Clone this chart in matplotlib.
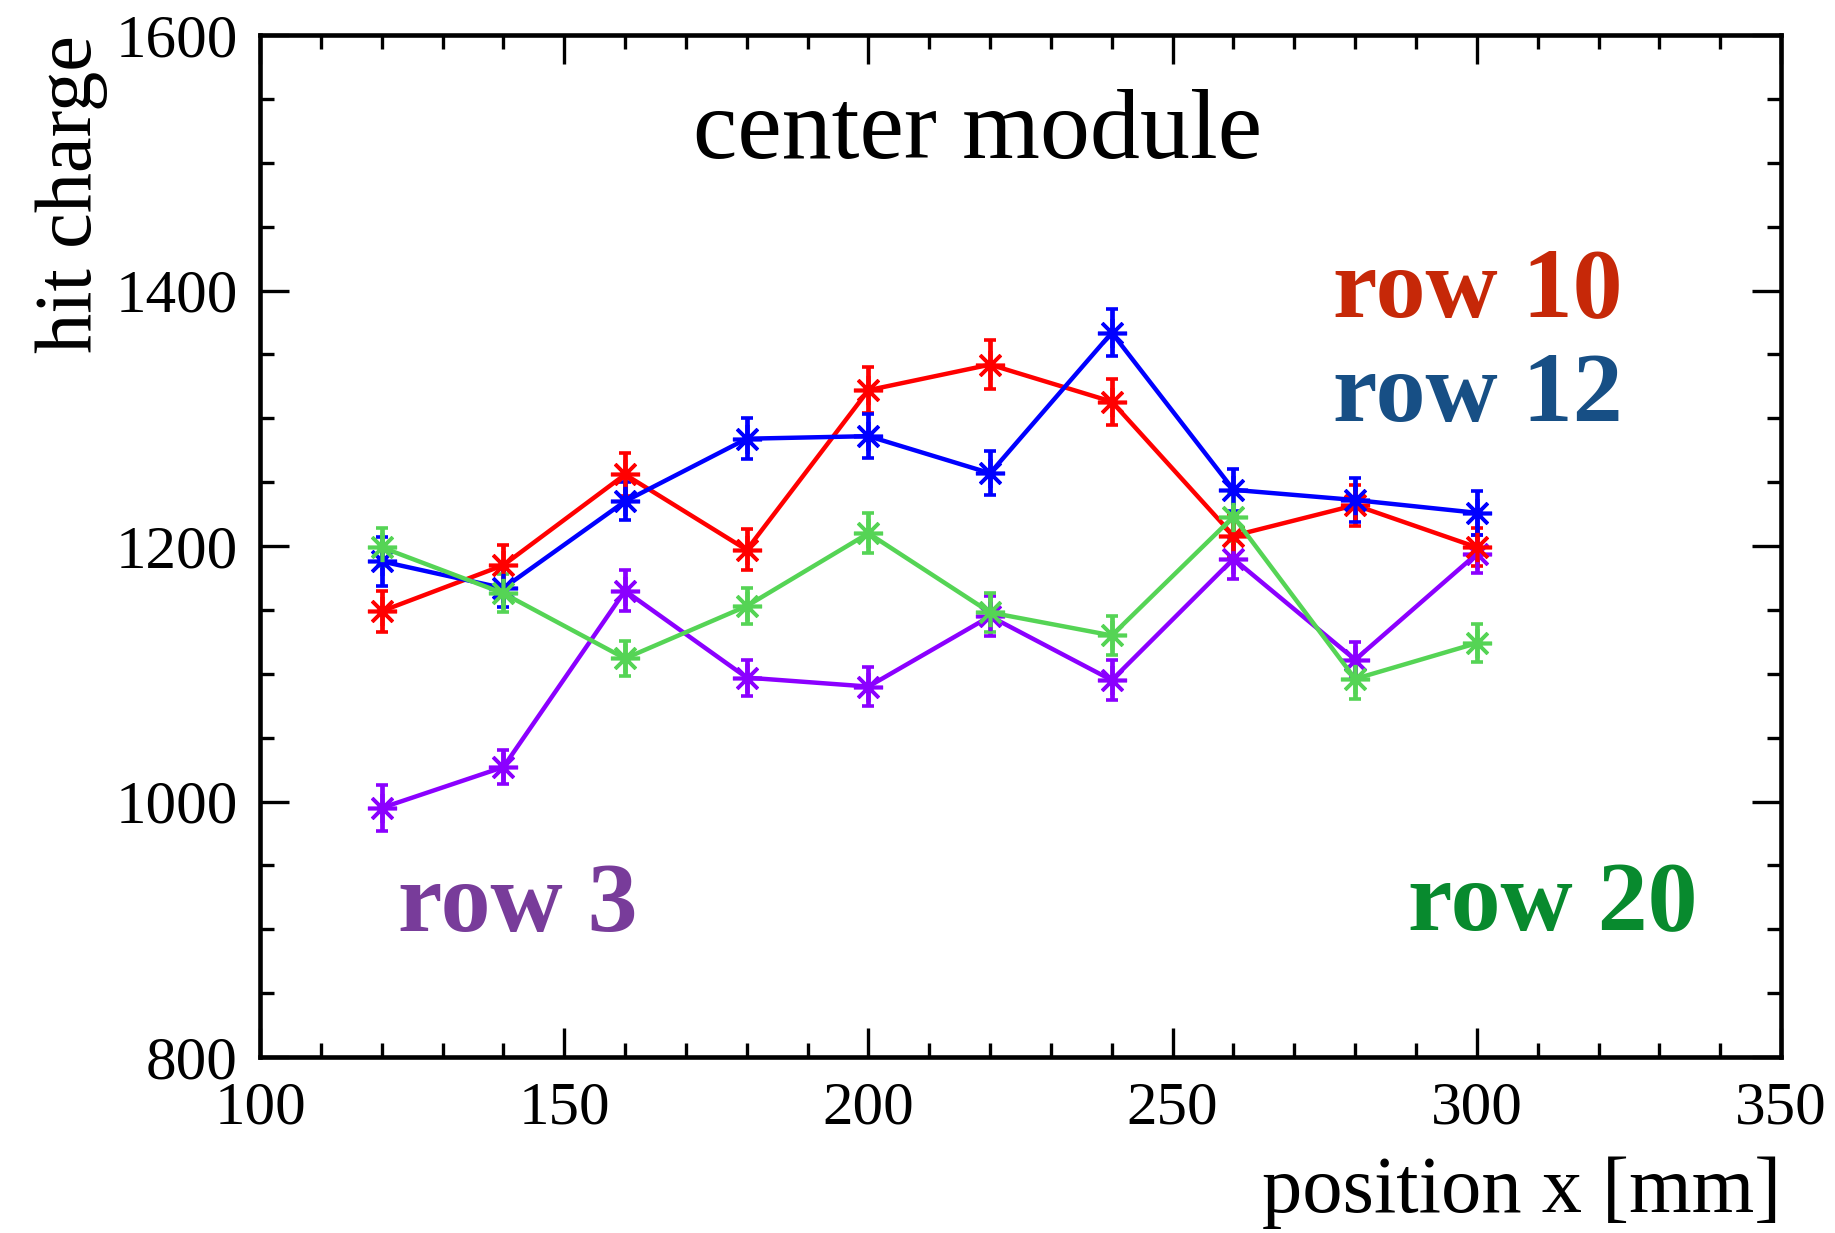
import matplotlib
matplotlib.use("Agg")
import matplotlib.pyplot as plt
from matplotlib.ticker import MultipleLocator

plt.rcParams['font.family'] = ['Liberation Serif', 'DejaVu Serif']

x = [120, 140, 160, 180, 200, 220, 240, 260, 280, 300]

row10 = [1149, 1185, 1256, 1197, 1322, 1342, 1313, 1208, 1232, 1199]
row10_err = [16, 16, 16.5, 16, 18, 19, 18, 17, 16, 15]

row12 = [1188, 1167, 1235, 1284, 1286, 1257, 1367, 1244, 1236, 1226]
row12_err = [19, 15, 15, 16, 17, 17, 18.5, 16.5, 17, 17]

row20 = [1199, 1163, 1112, 1153, 1210, 1148, 1130, 1223, 1096, 1124]
row20_err = [15, 15, 14, 14, 15.5, 15.5, 15, 19, 16, 15]

row3 = [995, 1027, 1165, 1097, 1090, 1145, 1095, 1190, 1111, 1194]
row3_err = [18, 13, 16, 14, 15, 15.5, 15.5, 16, 14, 15]

series = [
    ("row 3", row3, row3_err, "#8B00FF"),
    ("row 10", row10, row10_err, "#FF0000"),
    ("row 12", row12, row12_err, "#0000FF"),
    ("row 20", row20, row20_err, "#55D455"),
]

fig = plt.figure(figsize=(18.35, 12.33), dpi=100)
ax = fig.add_axes([0.1417, 0.1427, 0.9706 - 0.1417, 0.9716 - 0.1427])

for name, y, e, c in series:
    ax.errorbar(x, y, yerr=e, color=c, lw=3.2, elinewidth=3.4, capsize=4.5,
                capthick=4, marker=(8, 2, 0), markersize=21, markeredgewidth=2.6)

ax.set_xlim(100, 350)
ax.set_ylim(800, 1600)
ax.xaxis.set_major_locator(MultipleLocator(50))
ax.xaxis.set_minor_locator(MultipleLocator(10))
ax.yaxis.set_major_locator(MultipleLocator(200))
ax.yaxis.set_minor_locator(MultipleLocator(50))

for s in ax.spines.values():
    s.set_linewidth(3.3)

ax.tick_params(which='both', direction='in', top=True, right=True, width=2.4)
ax.tick_params(which='major', length=21)
ax.tick_params(which='minor', length=10)
ax.tick_params(axis='x', which='major', labelsize=44, pad=17)
ax.tick_params(axis='y', which='major', labelsize=44, pad=16)

ax.text(1.0, -0.152, "position x [mm]", fontsize=58, ha='right', va='baseline',
        transform=ax.transAxes)
ax.set_ylabel("hit charge", fontsize=58, loc='top')
ax.yaxis.set_label_coords(-0.100, 1.0)

ax.text(218, 1504, "center module", fontsize=72, ha='center', va='baseline')
ax.text(276.3, 1380, "row 10", fontsize=72, fontweight='bold', color='#C62808',
        ha='left', va='baseline')
ax.text(276.3, 1298, "row 12", fontsize=72, fontweight='bold', color='#174F85',
        ha='left', va='baseline')
ax.text(122.7, 899, "row 3", fontsize=72, fontweight='bold', color='#783C9A',
        ha='left', va='baseline')
ax.text(288.7, 899, "row 20", fontsize=72, fontweight='bold', color='#088A2E',
        ha='left', va='baseline')

fig.savefig("out.png", dpi=100)
